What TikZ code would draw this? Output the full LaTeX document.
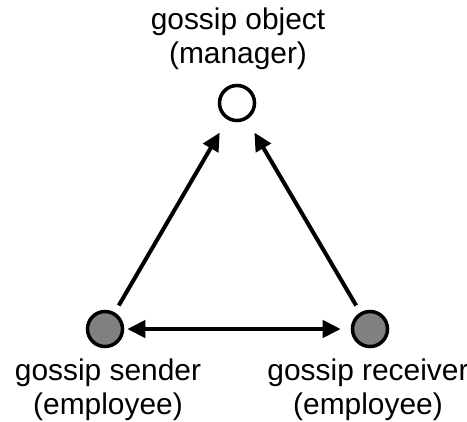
\documentclass[tikz,border=0pt]{standalone}
\usepackage{fontspec}
\setmainfont{Liberation Sans}
\usetikzlibrary{arrows.meta}

\tikzset{
  person/.style={circle, draw=black, line width=0.035cm, minimum size=0.35cm, inner sep=0pt},
  label text/.style={align=center, font=\fontsize{8.5}{9.6}\selectfont},
  gossip/.style={line width=0.04cm, -{Triangle[length=0.18cm, width=0.17cm]}}
}

\begin{document}
\begin{tikzpicture}[x=0.01cm, y=-0.01cm]
\useasboundingbox (0,0) rectangle (467,421);
\node[person, fill=white] (object) at (237,103) {};
\node[person, fill=black!50] (sender) at (105,329) {};
\node[person, fill=black!50] (receiver) at (370,329) {};
\node[label text] (objecttext) at (238,39) {gossip object\\(manager)};
\node[label text] (sendertext) at (108,390) {gossip sender\\(employee)};
\node[label text] (receivertext) at (368,390) {gossip receiver\\(employee)};
\draw[gossip, shorten <=0.08cm, shorten >=0.15cm] (sender) -- (object);
\draw[gossip, shorten <=0.08cm, shorten >=0.15cm] (receiver) -- (object);
\draw[gossip, {Triangle[length=0.18cm, width=0.17cm]}-{Triangle[length=0.18cm, width=0.17cm]}, shorten <=0.03cm, shorten >=0.1cm] (sender) -- (receiver);
\end{tikzpicture}
\end{document}
